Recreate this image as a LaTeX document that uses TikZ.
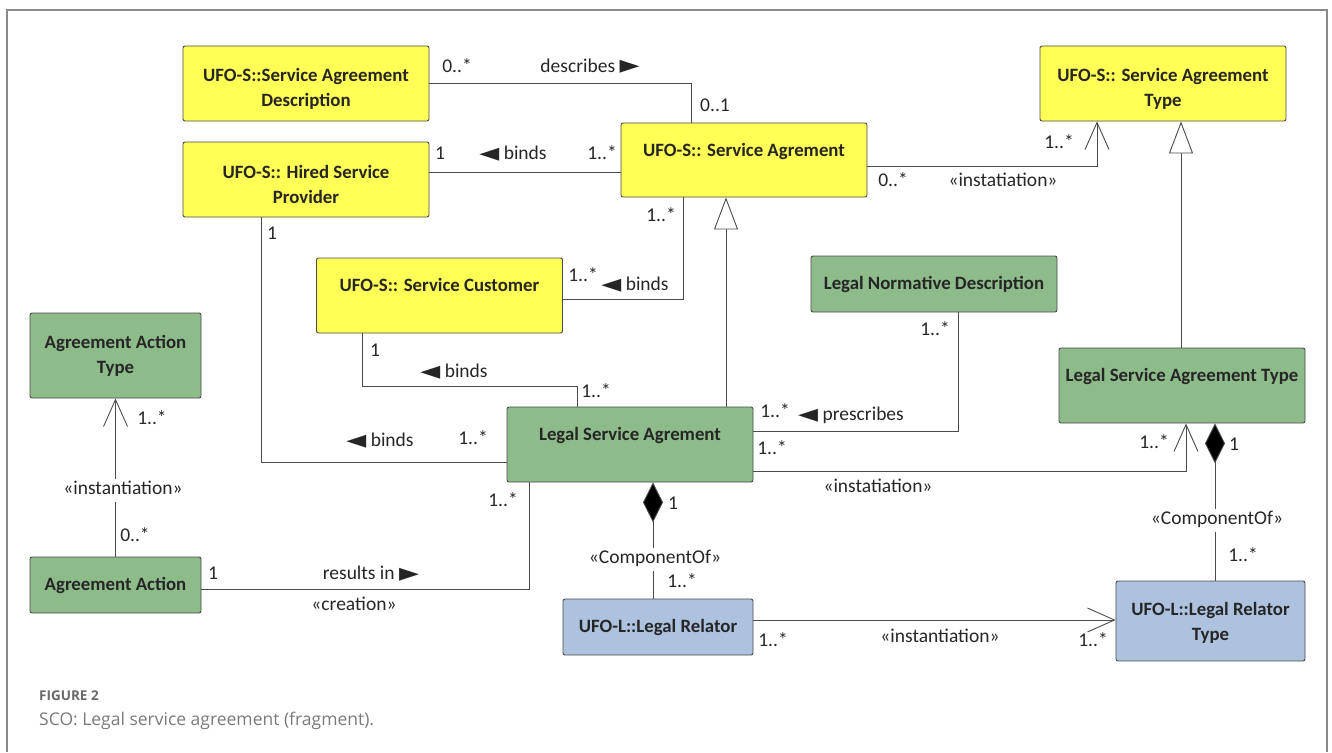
\documentclass[tikz,border=0pt]{standalone}
\usepackage{fontspec}
\setmainfont{Carlito}
\newfontfamily\symfont{DejaVu Sans}
\newfontfamily\capfont{Open Sans}
\usetikzlibrary{arrows.meta}
\definecolor{umlyellow}{HTML}{FFFF55}
\definecolor{umlgreen}{HTML}{8DBB8A}
\definecolor{umlblue}{HTML}{ADC2DF}
\definecolor{edgegrey}{HTML}{4A4A4A}
\definecolor{framegrey}{HTML}{8A8A8A}
\definecolor{captiongrey}{HTML}{7A7A7A}
\newcommand{\ltri}{\raisebox{-1.5pt}{\symfont\fontsize{26}{26}\selectfont ◄}}
\newcommand{\rtri}{\raisebox{-1.5pt}{\symfont\fontsize{26}{26}\selectfont ►}}
% tall strut that lowers a two-line class name inside its box
\newcommand{\lowerstrut}{\rule{0pt}{23pt}}
\begin{document}
\begin{tikzpicture}[x=1pt,y=-1pt,
  cls/.style={draw=edgegrey, line width=0.9pt, rounded corners=2pt,
    font=\bfseries\fontsize{18.8}{25}\selectfont, align=center,
    inner sep=0pt, text=black!85, minimum width=246pt},
  yel/.style={cls, fill=umlyellow},
  grn/.style={cls, fill=umlgreen},
  blu/.style={cls, fill=umlblue},
  raised/.style={text height=13pt, text depth=#1},
  conn/.style={draw=edgegrey, line width=0.9pt},
  inst/.style={conn, -{Straight Barb[length=27pt,width=24pt,line width=0.9pt]}},
  gen/.style={conn, -{Triangle[open,length=32pt,width=24pt,fill=white,line width=0.9pt]}},
  comp/.style={conn, {Diamond[length=40pt,width=20pt,fill=black]}-},
  lab/.style={font=\fontsize{19.5}{22}\selectfont, inner sep=0pt,
    text height=13pt, text depth=4pt, text=black!85},
  gap/.style={lab, fill=white, inner xsep=1pt, inner ysep=3pt}
]
\useasboundingbox (0,0) rectangle (1332,752);

% outer frame, open at the bottom
\draw[framegrey, line width=1.4pt] (7,752) -- (7,10) -- (1327,10) -- (1327,752);

% classes
\node[yel, minimum height=75pt] (sad) at (306,83.5) {\lowerstrut UFO-S::Service Agreement\\Description};
\node[yel, minimum height=75pt] (hsp) at (306,179.5) {\lowerstrut UFO-S:: Hired Service\\Provider};
\node[yel, minimum height=74pt, raised=21pt] (sa) at (744,160) {UFO-S:: Service Agrement};
\node[yel, minimum height=75pt] (sat) at (1163,83.5) {\lowerstrut UFO-S:: Service Agreement\\Type};
\node[yel, minimum height=75pt, raised=21pt] (sc) at (439.5,295.5) {UFO-S:: Service Customer};
\node[grn, minimum height=56pt] (lnd) at (934,284) {Legal Normative Description};
\node[grn, minimum width=171pt, minimum height=85pt] (aat) at (115.5,355.5) {Agreement Action\\Type};
\node[grn, minimum width=171pt, minimum height=56pt] (aa) at (115.5,585) {Agreement Action};
\node[grn, minimum height=75pt, raised=21pt] (lsa) at (630,444.5) {Legal Service Agrement};
\node[grn, minimum height=75pt, raised=21pt] (lsat) at (1182,385.5) {Legal Service Agreement Type};
\node[blu, minimum width=190pt, minimum height=56pt] (lr) at (658,627) {UFO-L::Legal Relator};
\node[blu, minimum width=189pt, minimum height=80pt] (lrt) at (1210.5,621) {\rule{0pt}{17pt}UFO-L::Legal Relator\\Type};

% associations
\draw[conn] (sad.east) -| ([xshift=-53pt]sa.north);
\draw[conn] ([yshift=7.5pt]hsp.east) -- ([yshift=7.5pt]hsp.east -| sa.west);
\draw[inst] ([yshift=-6pt]sa.east) -| ([xshift=-66pt]sat.south);
\draw[conn] ([xshift=-61pt]sa.south) |- ([yshift=-3.5pt]sc.east);
\draw[gen] ([xshift=96pt]lsa.north) -- ([xshift=96pt]lsa.north |- sa.south);
\draw[conn] ([xshift=-77.5pt]sc.south) |- ([xshift=-53pt,yshift=20pt]lsa.north) -- ([xshift=-53pt]lsa.north);
\draw[conn] ([xshift=-45pt]hsp.south) |- ([yshift=-17.5pt]lsa.west);
\draw[conn] ([xshift=24pt]lnd.south) |- ([yshift=13.5pt]lsa.east);
\draw[inst] ([yshift=-26.5pt]lsa.east) -| ([xshift=4pt]lsat.south);
\draw[comp] ([xshift=33pt]lsat.south) -- ([xshift=33pt]lsat.south |- lrt.north);
\draw[comp] ([xshift=23pt]lsa.south) -- ([xshift=23pt]lsa.south |- lr.north);
\draw[inst] ([yshift=7pt]lr.east) -- ([yshift=7pt]lr.east -| lrt.west);
\draw[conn] ([yshift=-4pt]aa.east) -| ([xshift=-101pt]lsa.south);
\draw[inst] (aa.north) -- (aat.south);
\draw[gen] ([xshift=-1pt]lsat.north) -- ([xshift=-1pt]lsat.north |- sat.south);

% association labels and multiplicities
\node[lab] (m1) at (457,68) {0..*};
\node[lab] (r1) at (590,68) {describes \rtri};
\node[lab] (m2) at (715,107) {0..1};
\node[lab] (m3) at (440,155) {1};
\node[lab] (r2) at (513,155) {\ltri\ binds};
\node[lab] (m4) at (602,155) {1..*};
\node[lab] (m5) at (893,182) {0..*};
\node[lab] (r3) at (1003,182) {«instatiation»};
\node[lab] (m6) at (1059,144) {1..*};
\node[lab] (m7) at (661,217) {1..*};
\node[lab] (m8) at (583,277) {1..*};
\node[lab] (r4) at (635,286) {\ltri\ binds};
\node[lab] (m9) at (375,352) {1};
\node[lab] (r5) at (454,373) {\ltri\ binds};
\node[lab] (m10) at (596,393) {1..*};
\node[lab] (m11) at (272,235) {1};
\node[lab] (r6) at (380,442) {\ltri\ binds};
\node[lab] (m12) at (473,440) {1..*};
\node[lab] (m13) at (935,331) {1..*};
\node[lab] (m14) at (775,413) {1..*};
\node[lab] (r7) at (851,416) {\ltri\ prescribes};
\node[lab] (m15) at (772,450) {1..*};
\node[lab] (r8) at (878,488) {«instatiation»};
\node[lab] (m16) at (1154,444) {1..*};
\node[lab] (m17) at (1234,446) {1};
\node[gap] (r9) at (1217,520) {«ComponentOf»};
\node[lab] (m18) at (1243,557) {1..*};
\node[lab] (m19) at (673,505) {1};
\node[gap] (r10) at (655,559) {«ComponentOf»};
\node[lab] (m20) at (682,583) {1..*};
\node[lab] (m21) at (773,642) {1..*};
\node[lab] (r11) at (940,638) {«instantiation»};
\node[lab] (m22) at (1093,642) {1..*};
\node[lab] (m23) at (213,575) {1};
\node[lab] (r12) at (371,575) {results in \rtri};
\node[lab] (r13) at (354,606) {«creation»};
\node[lab] (m24) at (503,502) {1..*};
\node[gap] (r14) at (123,490) {«instantiation»};
\node[lab] (m25) at (152,420) {1..*};
\node[lab] (m26) at (135,537) {0..*};

% caption
\node[anchor=west, inner sep=0pt, text=captiongrey!85!black, font=\capfont\bfseries\fontsize{13.5}{15}\selectfont] (fig) at (39,696) {FIGURE 2};
\node[anchor=west, inner sep=0pt, text=captiongrey, font=\capfont\fontsize{17.5}{20}\selectfont] (cap) at (39,721) {SCO: Legal service agreement (fragment).};
\end{tikzpicture}
\end{document}
